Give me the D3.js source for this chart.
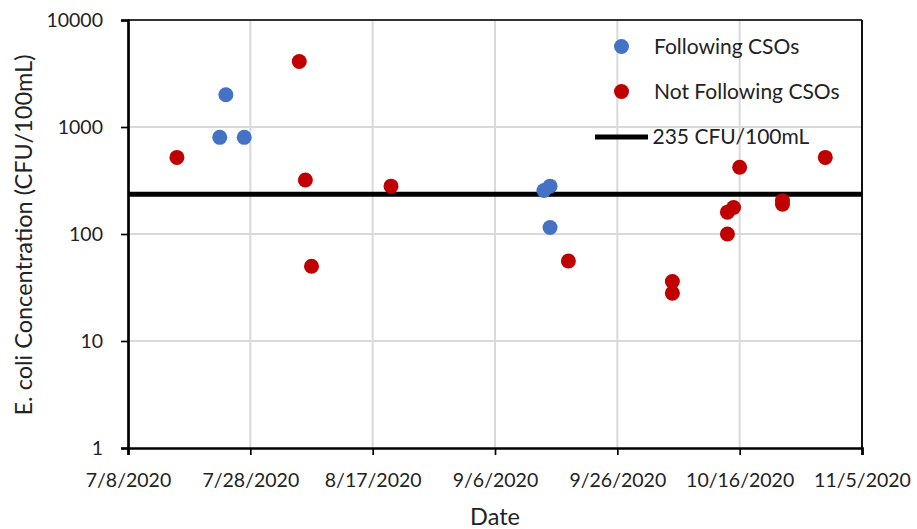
<!DOCTYPE html>
<html>
<head>
<meta charset="utf-8">
<script src="https://cdn.jsdelivr.net/npm/d3@7/dist/d3.min.js"></script>
<style>
  body { margin: 0; background: #fff; }
  svg text { font-family: Lato, "Open Sans", "Liberation Sans", sans-serif; fill: #222; }
</style>
</head>
<body>
<svg id="chart" width="917" height="529"></svg>
<script>
// E. coli samples taken shortly after combined sewer overflows
const followingDates = ["2020-07-23", "2020-07-24", "2020-07-27", "2020-09-14", "2020-09-15", "2020-09-15"];
const followingValues = [800, 2000, 800, 255, 280, 115];

// E. coli samples not associated with overflows
const notFollowingDates = ["2020-07-16", "2020-08-05", "2020-08-06", "2020-08-07", "2020-08-20", "2020-09-18",
  "2020-10-05", "2020-10-05", "2020-10-14", "2020-10-14", "2020-10-15", "2020-10-16",
  "2020-10-23", "2020-10-23", "2020-10-30"];
const notFollowingValues = [520, 4100, 320, 50, 280, 56,
  36, 28, 100, 160, 177, 420,
  205, 190, 520];

// Recreational water quality threshold
const thresholdValue = 235;
const thresholdLabel = "235 CFU/100mL";

const xTickDates = ["2020-07-08", "2020-07-28", "2020-08-17", "2020-09-06", "2020-09-26", "2020-10-16", "2020-11-05"];
const yTickValues = [1, 10, 100, 1000, 10000];

const parse = d3.utcParse("%Y-%m-%d");
const fmt = d3.utcFormat("%-m/%-d/%Y");

const svg = d3.select("#chart");
const m = { left: 128, right: 862, top: 20, bottom: 448 };

const x = d3.scaleUtc()
  .domain([parse(xTickDates[0]), parse(xTickDates[xTickDates.length - 1])])
  .range([m.left, m.right]);
const y = d3.scaleLog().domain([1, 10000]).range([m.bottom, m.top]);

// gridlines
const grid = svg.append("g");
grid.selectAll("line.v").data(xTickDates.slice(1, -1)).join("line")
  .attr("x1", d => x(parse(d))).attr("x2", d => x(parse(d)))
  .attr("y1", m.top).attr("y2", m.bottom)
  .attr("stroke", "#d9d9d9").attr("stroke-width", 2);
grid.selectAll("line.h").data(yTickValues.slice(1, -1)).join("line")
  .attr("x1", m.left).attr("x2", m.right)
  .attr("y1", d => y(d)).attr("y2", d => y(d))
  .attr("stroke", "#d9d9d9").attr("stroke-width", 2);

// plot frame: top and right edges
svg.append("line").attr("x1", m.left).attr("x2", m.right).attr("y1", m.top).attr("y2", m.top)
  .attr("stroke", "#333").attr("stroke-width", 2);
svg.append("line").attr("x1", m.right).attr("x2", m.right).attr("y1", m.top).attr("y2", m.bottom)
  .attr("stroke", "#111").attr("stroke-width", 2);

// axes
const xAxis = svg.append("g").attr("transform", `translate(0,${m.bottom})`)
  .call(d3.axisBottom(x).tickValues(xTickDates.map(parse)).tickFormat(fmt).tickSizeOuter(0).tickSize(7).tickPadding(18));
const yAxis = svg.append("g").attr("transform", `translate(${m.left},0)`)
  .call(d3.axisLeft(y).tickValues(yTickValues).tickFormat(d3.format("d")).tickSizeOuter(0).tickSize(7).tickPadding(18));
[xAxis, yAxis].forEach(a => {
  a.select(".domain").attr("stroke", "#000").attr("stroke-width", 2.7);
  a.selectAll(".tick line").attr("stroke", "#000").attr("stroke-width", 1.7);
  a.selectAll(".tick text").attr("font-size", 19.5).attr("fill", "#222")
    .style("font-family", "Lato, 'Open Sans', sans-serif");
});
xAxis.selectAll(".tick text").attr("dy", "0.71em");

// threshold line
svg.append("line")
  .attr("x1", m.left).attr("x2", m.right)
  .attr("y1", y(thresholdValue)).attr("y2", y(thresholdValue))
  .attr("stroke", "#000").attr("stroke-width", 5);

// points
const blue = "#4472C4", red = "#C00000", r = 7.5;
svg.append("g").selectAll("circle").data(notFollowingDates.map((d, i) => [parse(d), notFollowingValues[i]]))
  .join("circle").attr("cx", d => x(d[0])).attr("cy", d => y(d[1])).attr("r", r).attr("fill", red);
svg.append("g").selectAll("circle").data(followingDates.map((d, i) => [parse(d), followingValues[i]]))
  .join("circle").attr("cx", d => x(d[0])).attr("cy", d => y(d[1])).attr("r", r).attr("fill", blue);

// legend
const lg = svg.append("g").attr("font-size", 21);
lg.append("circle").attr("cx", 621.5).attr("cy", 46.5).attr("r", r).attr("fill", blue);
lg.append("text").attr("x", 654).attr("y", 53.5).text("Following CSOs");
lg.append("circle").attr("cx", 621.5).attr("cy", 91.5).attr("r", r).attr("fill", red);
lg.append("text").attr("x", 654).attr("y", 99).text("Not Following CSOs");
lg.append("line").attr("x1", 595).attr("x2", 648).attr("y1", 137).attr("y2", 137)
  .attr("stroke", "#000").attr("stroke-width", 5);
lg.append("text").attr("x", 652.5).attr("y", 144).text(thresholdLabel);

// axis titles
svg.append("text").attr("x", (m.left + m.right) / 2).attr("y", 525).attr("text-anchor", "middle")
  .attr("font-size", 23.5).text("Date");
svg.append("text").attr("transform", `translate(32,${(m.top + m.bottom) / 2 + 1}) rotate(-90)`)
  .attr("text-anchor", "middle").attr("font-size", 23.5).text("E. coli Concentration (CFU/100mL)");
</script>
</body>
</html>
